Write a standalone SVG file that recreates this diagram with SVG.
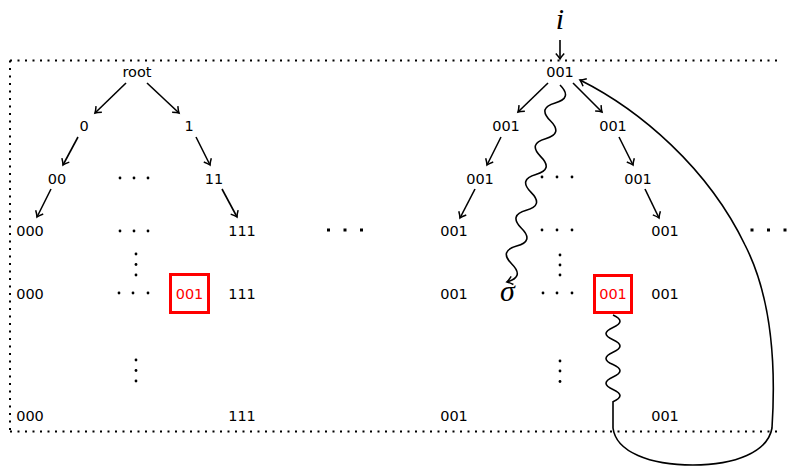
<svg xmlns="http://www.w3.org/2000/svg" width="788" height="466" viewBox="0 0 788 466">
<style>
.t{font-family:"DejaVu Sans",sans-serif;font-size:14.5px;fill:#000;text-anchor:middle}
.r{fill:#ff0000}
.m{font-family:"Liberation Serif",serif;font-style:italic;font-size:30px;text-anchor:middle;fill:#000}
.box{fill:none;stroke:#ff0000;stroke-width:3}
.e{fill:none;stroke:#000;stroke-width:1.6}
.frame{fill:none;stroke:#000;stroke-width:2;stroke-dasharray:2 5.5}
.d{fill:#000}
</style>
<defs>
<marker id="ah" markerWidth="10" markerHeight="10" refX="0" refY="0" orient="auto" markerUnits="userSpaceOnUse" overflow="visible">
<path d="M-5.5,-4.2 Q-2,-1 0,0 Q-2,1 -5.5,4.2" fill="none" stroke="#000" stroke-width="1.5"/>
</marker>
</defs>
<rect width="788" height="466" fill="#fff"/>
<g id="frame">
<path class="frame" d="M10,60.5 H779 M10,431.5 H779 M10,60.5 V431.5"/>
</g>
<g id="ellipses">
<g class="d">
<circle cx="120" cy="178" r="1.4"/><circle cx="134" cy="178" r="1.4"/><circle cx="148" cy="178" r="1.4"/>
<circle cx="120" cy="231" r="1.4"/><circle cx="134" cy="231" r="1.4"/><circle cx="148" cy="231" r="1.4"/>
<circle cx="119" cy="293" r="1.4"/><circle cx="133" cy="293" r="1.4"/><circle cx="148" cy="293" r="1.4"/>
<circle cx="136" cy="254" r="1.4"/><circle cx="136" cy="264.5" r="1.4"/><circle cx="136" cy="275" r="1.4"/>
<circle cx="136" cy="360" r="1.4"/><circle cx="136" cy="370.5" r="1.4"/><circle cx="136" cy="381" r="1.4"/>
<circle cx="542" cy="177" r="1.4"/><circle cx="557" cy="177" r="1.4"/><circle cx="572" cy="177" r="1.4"/>
<circle cx="542" cy="230" r="1.4"/><circle cx="557" cy="230" r="1.4"/><circle cx="572" cy="230" r="1.4"/>
<circle cx="543" cy="293" r="1.4"/><circle cx="557" cy="293" r="1.4"/><circle cx="572" cy="293" r="1.4"/>
<circle cx="560" cy="255" r="1.4"/><circle cx="560" cy="265" r="1.4"/><circle cx="560" cy="275" r="1.4"/>
<circle cx="560" cy="361" r="1.4"/><circle cx="560" cy="371" r="1.4"/><circle cx="560" cy="381.5" r="1.4"/>
<rect x="327" y="228.5" width="3" height="3"/><rect x="343.5" y="228.5" width="3" height="3"/><rect x="360" y="228.5" width="3" height="3"/>
<rect x="750.5" y="228.5" width="3" height="3"/><rect x="767" y="228.5" width="3" height="3"/><rect x="783.5" y="228.5" width="3" height="3"/>
</g>
</g>
<g id="connectors" class="e">
<path d="M126,83 L95,113" marker-end="url(#ah)"/>
<path d="M147,83 L179,113" marker-end="url(#ah)"/>
<path d="M78,137 L63,165" marker-end="url(#ah)"/>
<path d="M196,137 L210,165" marker-end="url(#ah)"/>
<path d="M51,189 L37,217" marker-end="url(#ah)"/>
<path d="M222,189 L237,217" marker-end="url(#ah)"/>
<path d="M548,83 L518,112" marker-end="url(#ah)"/>
<path d="M573,83 L602,112" marker-end="url(#ah)"/>
<path d="M501,137 L487,165" marker-end="url(#ah)"/>
<path d="M619,137 L633,165" marker-end="url(#ah)"/>
<path d="M475,189 L460,218" marker-end="url(#ah)"/>
<path d="M645,189 L659,218" marker-end="url(#ah)"/>
<path d="M560,40 L560,59" marker-end="url(#ah)"/>
<path d="M560,85 q13,13 -4.82,17.9 t-4.82,17.9 t-4.82,17.9 t-4.82,17.9 t-4.82,17.9 t-4.82,17.9 t-4.82,17.9 t-4.82,17.9 t-4.82,17.9 t-4.82,17.9 t-4.82,17.9" marker-end="url(#ah)"/>
<path d="M613,315 q14,6.2 0,12.4 t0,12.4 t0,12.4 t0,12.4 t0,12.4 t0,12.4 t0,12.4 L613,428 C616,452 650,465 693,465 C735,465 768,452 772,428 C777,350 768,290 745,245 C708,168 640,110 580,80" marker-end="url(#ah)"/>
</g>
<g id="n-root"><text class="t" x="137" y="77">root</text></g>
<g id="n-0"><text class="t" x="84" y="130.5">0</text></g>
<g id="n-1"><text class="t" x="189" y="130.5">1</text></g>
<g id="n-00"><text class="t" x="57" y="183.5">00</text></g>
<g id="n-11"><text class="t" x="214" y="183.5">11</text></g>
<g id="n-000a"><text class="t" x="30" y="236">000</text></g>
<g id="n-111a"><text class="t" x="242" y="236">111</text></g>
<g id="n-000b"><text class="t" x="30" y="298.5">000</text></g>
<g id="n-001red-left"><rect class="box" x="170.5" y="274.5" width="38" height="38"/><text class="t r" x="189.5" y="298.5">001</text></g>
<g id="n-111b"><text class="t" x="242" y="298.5">111</text></g>
<g id="n-000c"><text class="t" x="30" y="421">000</text></g>
<g id="n-111c"><text class="t" x="242" y="421">111</text></g>
<g id="n-i"><text class="m" x="560" y="29">i</text></g>
<g id="r-root"><text class="t" x="560" y="77">001</text></g>
<g id="r-l1"><text class="t" x="506" y="130.5">001</text></g>
<g id="r-r1"><text class="t" x="613" y="130.5">001</text></g>
<g id="r-l2"><text class="t" x="480" y="183.5">001</text></g>
<g id="r-r2"><text class="t" x="638" y="183.5">001</text></g>
<g id="r-l3"><text class="t" x="454" y="236">001</text></g>
<g id="r-r3"><text class="t" x="665" y="236">001</text></g>
<g id="r-l4"><text class="t" x="454" y="298.5">001</text></g>
<g id="n-sigma"><text class="m" x="507.5" y="301">σ</text></g>
<g id="n-001red-right"><rect class="box" x="594.5" y="275.5" width="37" height="37"/><text class="t r" x="613" y="298.5">001</text></g>
<g id="r-r4"><text class="t" x="665" y="298.5">001</text></g>
<g id="r-l5"><text class="t" x="454" y="421">001</text></g>
<g id="r-r5"><text class="t" x="665" y="421">001</text></g>
</svg>
